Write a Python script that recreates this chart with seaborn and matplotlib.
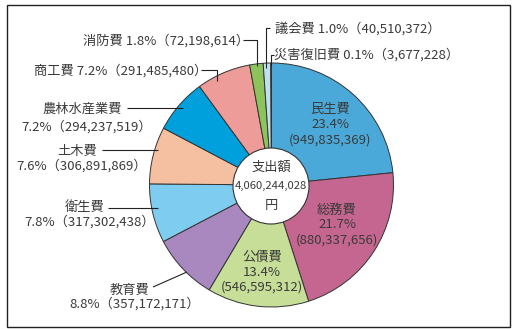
import matplotlib
matplotlib.use("Agg")
import matplotlib.pyplot as plt
from matplotlib.patches import Circle, Rectangle
import seaborn as sns

# Expenditure by purpose (yen), clockwise from 12 o'clock
categories = ["民生費", "総務費", "公債費", "教育費", "衛生費", "土木費",
              "農林水産業費", "商工費", "消防費", "議会費", "災害復旧費"]
amounts = [949835369, 880337656, 546595312, 357172171, 317302438, 306891869,
           294237519, 291485480, 72198614, 40510372, 3677228]
percents = [23.4, 21.7, 13.4, 8.8, 7.8, 7.6, 7.2, 7.2, 1.8, 1.0, 0.1]
total_label = "支出額"
total_amount = 4060244028
total_unit = "円"

colors = ["#4BA9D9", "#C4668F", "#C7DE98", "#A987BF", "#7ECDF1", "#F5C0A2",
          "#00A0DD", "#EE9C99", "#8CC45B", "#BFE0F1", "#243F5A"]

sns.set_theme(style="white")
plt.rcParams["font.family"] = ["Noto Sans CJK JP", "DejaVu Sans"]

W, H = 526, 329
fig = plt.figure(figsize=(W / 100, H / 100), dpi=100)
ax = fig.add_axes([0, 0, 1, 1])


def Y(y):
    # convert top-down pixel row to axis y
    return H - y


cx, cy, r = 271.5, Y(185), 122
ax.pie(amounts, colors=sns.color_palette(colors), startangle=90,
       counterclock=False, center=(cx, cy), radius=r,
       wedgeprops=dict(edgecolor="#333333", linewidth=0.7))
ax.add_patch(Circle((271, Y(186)), 38, facecolor="white",
                    edgecolor="#333333", linewidth=0.8, zorder=3))

ax.set_xlim(0, W)
ax.set_ylim(0, H)
ax.set_aspect("equal")
ax.axis("off")

txt = "#3a3a3a"
fs = 9.5

# centre total
ax.text(271, Y(167), total_label, ha="center", va="center", fontsize=fs, color=txt, zorder=4)
ax.text(271, Y(186), f"{total_amount:,}", ha="center", va="center", fontsize=8.1, color=txt, zorder=4)
ax.text(271, Y(205), total_unit, ha="center", va="center", fontsize=fs, color=txt, zorder=4)

# labels drawn inside the three largest wedges
inside = {0: (330, 110), 1: (337, 210), 2: (262, 257)}
for i, (x, y) in inside.items():
    ax.text(x, Y(y), categories[i], ha="center", va="center", fontsize=fs, color=txt)
    ax.text(x, Y(y + 15), f"{percents[i]:.1f}%", ha="center", va="center", fontsize=fs, color=txt)
    ax.text(x, Y(y + 30), f"({amounts[i]:,})", ha="center", va="center", fontsize=fs, color=txt)


def detail(i):
    return f"{percents[i]:.1f}%（{amounts[i]:,}）"


# two-line outside labels: (name centre x, name y, detail left x, detail y)
two_line = {
    3: (130, 290, 69, 304),
    4: (85, 208, 24, 222),
    5: (77, 151, 16, 166),
    6: (82, 109, 21, 127),
}
for i, (nx, ny, dx, dy) in two_line.items():
    ax.text(nx, Y(ny), categories[i], ha="center", va="center", fontsize=fs, color=txt)
    ax.text(dx, Y(dy), detail(i), ha="left", va="center", fontsize=fs, color=txt)

# one-line outside labels
ax.text(207, Y(71), f"{categories[7]} {detail(7)}", ha="right", va="center", fontsize=fs, color=txt)
ax.text(249, Y(41), f"{categories[8]} {detail(8)}", ha="right", va="center", fontsize=fs, color=txt)
ax.text(275, Y(29), f"{categories[9]} {detail(9)}", ha="left", va="center", fontsize=fs, color=txt)
ax.text(274, Y(55), f"{categories[10]} {detail(10)}", ha="left", va="center", fontsize=fs, color=txt)

# leader lines
leaders = [
    [(153, 287), (187, 272)],
    [(108, 208), (158, 208)],
    [(102, 150), (158, 150)],
    [(127, 108), (183, 108)],
    [(201, 70), (217, 70), (217, 81)],
    [(243, 40), (257, 40), (257, 66)],
    [(270, 28), (266, 28), (266, 68)],
    [(274, 55), (270.5, 55), (270.5, 66)],
]
for pts in leaders:
    xs = [p[0] for p in pts]
    ys = [Y(p[1]) for p in pts]
    ax.plot(xs, ys, color="#222222", linewidth=0.8, solid_capstyle="butt", zorder=5)

# outer frame
ax.add_patch(Rectangle((7, Y(327)), 503, 322, fill=False,
                       edgecolor="#222222", linewidth=1.0, zorder=6))

fig.savefig("out.png", dpi=100)
